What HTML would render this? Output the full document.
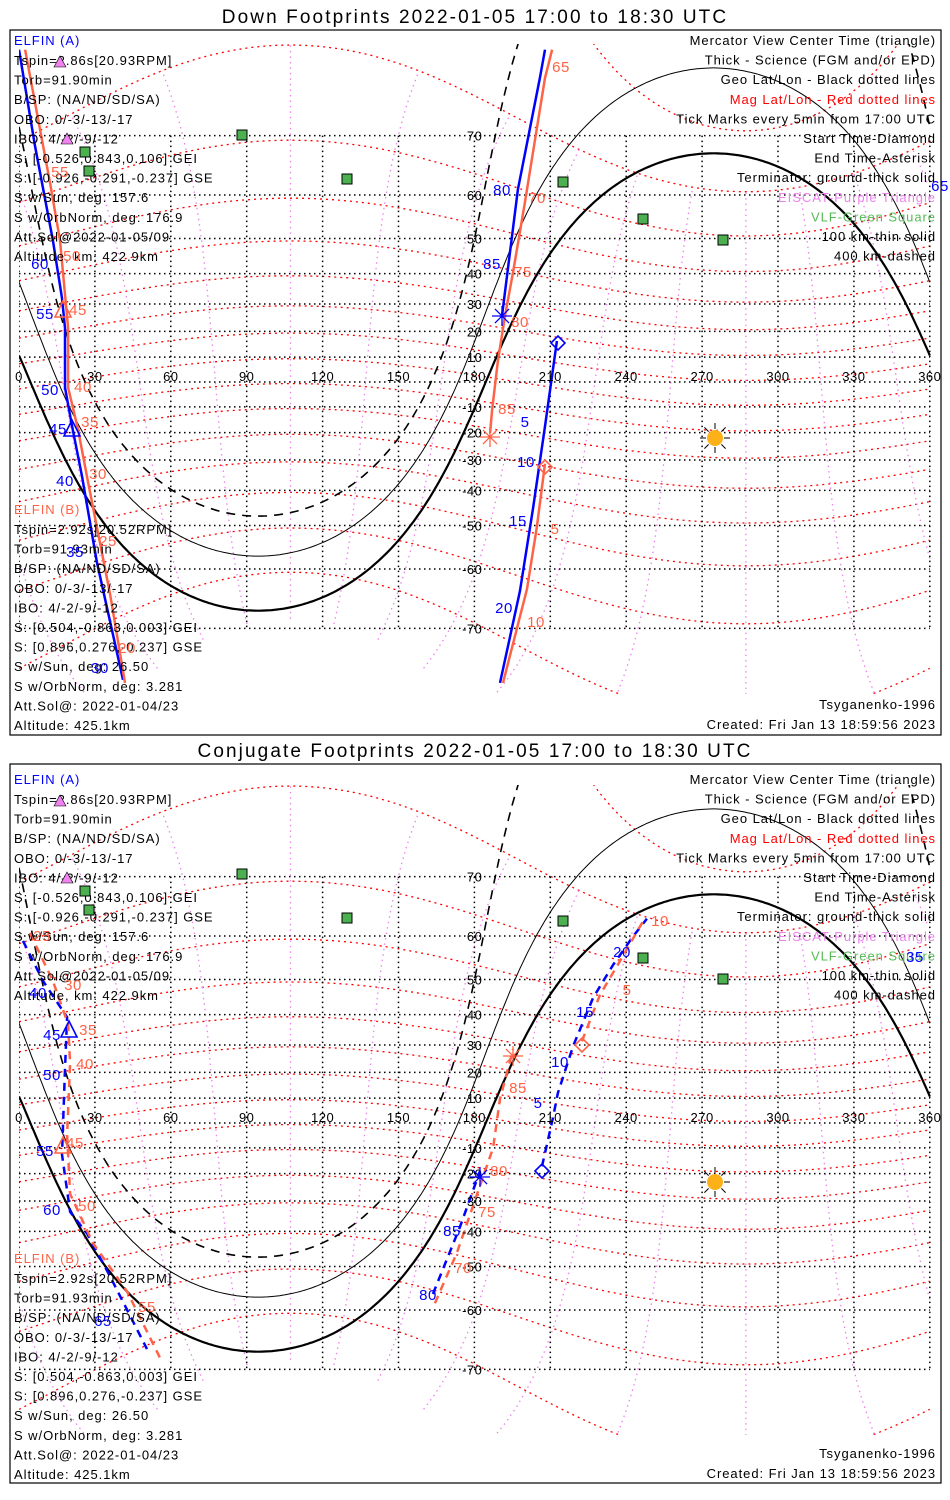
<!DOCTYPE html>
<html><head><meta charset="utf-8">
<style>
html,body{margin:0;padding:0;background:#fff;}
svg{display:block;font-family:"Liberation Sans",sans-serif;}
.tx{font-size:13px;letter-spacing:0.95px;}
.lb{font-size:15px;letter-spacing:0.5px;}
.ax{font-size:13px;fill:#000;letter-spacing:0.5px;}
.ti{font-size:19px;letter-spacing:2.1px;}
</style></head>
<body>
<svg id="chart" width="950" height="1500" viewBox="0 0 950 1500" xmlns="http://www.w3.org/2000/svg">
<defs>
<clipPath id="clipTop"><rect x="19" y="44" width="912" height="650"/></clipPath>
<clipPath id="clipBot"><rect x="19" y="785" width="912" height="650"/></clipPath>
</defs>
<text class="ti" x="475" y="23" text-anchor="middle">Down Footprints 2022-01-05 17:00 to 18:30 UTC</text>
<rect x="10" y="30" width="931" height="705" fill="none" stroke="#000" stroke-width="1.2"/>
<text class="ti" x="475" y="757" text-anchor="middle">Conjugate Footprints 2022-01-05 17:00 to 18:30 UTC</text>
<rect x="10" y="764" width="931" height="719" fill="none" stroke="#000" stroke-width="1.2"/>
<g id="topMap" clip-path="url(#clipTop)"></g>
<g id="botMap" clip-path="url(#clipBot)"></g>
<g id="overlay"></g>
</svg>
<script>
// ---------- data ----------
const lonTicks = [0,30,60,90,120,150,180,210,240,270,300,330,360];
const latTicks = [70,60,50,40,30,20,10,-10,-20,-30,-40,-50,-60,-70];
const magLats = [-70,-60,-50,-40,-30,-20,-10,0,10,20,30,40,50,60,70,80];
const magLons = [0,30,60,90,120,150,180,210,240,270,300,330];
const sunLat = -22.6, sunLon = 274.5;
const termDepression = [0, 10.1, 19.9];
// top panel (down footprints) tracks: lon / lat
const topA1Lon = [0,6.3,13.4,17,18.2,18.2,21,24.9,30.8,41.1];
const topA1Lat = [79,68.6,49.5,32,21.3,-2.2,-17.6,-35.5,-58.6,-76];
const topB1Lon = [2.4,12.3,16.2,19.4,19.4,23.3,27.3,36,41.9];
const topB1Lat = [79,62.3,49.5,21.3,-2.2,-18.6,-37.5,-64.7,-76.3];
const topA2Lon = [212.6,207.9,203.2,198,190.1];
const topA2Lat = [16.3,-17.6,-45.2,-64.2,-76.3];
const topA3Lon = [207.9,205.9,197.2,190.9];
const topA3Lat = [79,76.6,61.1,25.8];
const topB2Lon = [207.9,204.7,200.8,191.3];
const topB2Lat = [-31.3,-50.3,-63.8,-76.3];
const topB3Lon = [210.7,207.9,200,195.3,192.1,189.3,187,186.2];
const topB3Lat = [79,76.6,58.6,40.5,25.8,8.5,-11.2,-20.1];
// bottom panel (conjugate) tracks
const botA1Lon = [1.6,9.5,19,18.2,17,20.2,26.9,36,50.6];
const botA1Lat = [59,49.6,39.2,21.3,-12.6,-33.7,-40.7,-52.5,-67];
const botB1Lon = [4.3,13.4,19.4,20.2,19,20.2,29.2,42.7,55.7];
const botB1Lat = [60.6,49.6,37,23.4,-4.9,-27.5,-43.5,-56,-68.3];
const botA2Lon = [163.6,174.3,182.2];
const botA2Lat = [-56.6,-38.6,-19];
const botA3Lon = [206.7,211,213,219,226.9,234.8,242.7,248.2];
const botA3Lat = [-17.2,1.8,12,29.6,45,53.6,59.9,63.3];
const botB2Lon = [164.4,173.1,183.4,187.4,190.1,195.3];
const botB2Lat = [-58.6,-46.3,-21.3,-10,9.7,28.5];
const botB3Lon = [222.5,229.6,237.5,246.6];
const botB3Lat = [31.3,45.8,54.5,62.8];

// ---------- projection ----------
const D = Math.PI/180, K = 142, XS = 2.53, X0 = 19;
function X(lon){ return X0 + lon*XS; }
function Y(lat, y0){ const l=Math.max(-85,Math.min(85,lat))*D; return y0 - K*Math.log(Math.tan(Math.PI/4 + l/2)); }
const NS = "http://www.w3.org/2000/svg";
function mk(tag, attrs, parent){ const e=document.createElementNS(NS,tag); for(const k in attrs) e.setAttribute(k,attrs[k]); parent.appendChild(e); return e; }
function pathFromSegs(segs){ return segs.filter(s=>s.length>1).map(s=>"M"+s.map(p=>p[0].toFixed(1)+","+p[1].toFixed(1)).join("L")).join(""); }
const ov=document.getElementById("overlay");

function drawMap(g, y0){
  const plat=80.65*D, plon=287.3*D;
  magLats.forEach(ml=>{
    const pts=[];
    for(let lon=0;lon<=360;lon+=2){
      const A=Math.sin(plat), B=Math.cos(plat)*Math.cos(lon*D-plon);
      const R=Math.hypot(A,B), phi=Math.atan2(B,A);
      const s=Math.sin(ml*D)/R; if(Math.abs(s)>1) continue;
      const lat=(Math.asin(s)-phi)/D;
      pts.push([X(lon),Y(lat,y0)]);
    }
    const p=mk("path",{d:pathFromSegs([pts]),fill:"none",stroke:"#ff0000","stroke-width":1.3,"stroke-dasharray":"2,4"},g);
    
    
  });
  const zp=[Math.cos(plat)*Math.cos(plon),Math.cos(plat)*Math.sin(plon),Math.sin(plat)];
  let yp=[-zp[1],zp[0],0]; const n=Math.hypot(yp[0],yp[1]); yp=[yp[0]/n,yp[1]/n,0];
  const xp=[yp[1]*zp[2]-yp[2]*zp[1], yp[2]*zp[0]-yp[0]*zp[2], yp[0]*zp[1]-yp[1]*zp[0]];
  magLons.forEach(mlo=>{
    const segs=[]; let cur=[]; let prev=null;
    for(let ml=-78;ml<=70;ml+=2){
      const c=Math.cos(ml*D), s=Math.sin(ml*D), cm=Math.cos(mlo*D), sm=Math.sin(mlo*D);
      const v=[0,1,2].map(i=>c*cm*xp[i]+c*sm*yp[i]+s*zp[i]);
      const lat=Math.asin(v[2])/D; let lon=Math.atan2(v[1],v[0])/D; if(lon<0) lon+=360;
      if(prev!==null && Math.abs(lon-prev)>180){ segs.push(cur); cur=[]; }
      cur.push([X(lon),Y(lat,y0)]); prev=lon;
    }
    segs.push(cur);
    const p=mk("path",{d:pathFromSegs(segs),fill:"none",stroke:"#ee82ee","stroke-width":1.3,"stroke-dasharray":"1.5,4"},g);
    
    
  });
  lonTicks.forEach(lon=>{
    const l=mk("line",{x1:X(lon),x2:X(lon),y1:Y(70,y0),y2:Y(-70,y0),stroke:"#000","stroke-width":1.5,"stroke-dasharray":"1.5,3.5"},g);
    
    
  });
  latTicks.concat([0]).forEach(lat=>{
    const l=mk("line",{x1:X(0),x2:X(360),y1:Y(lat,y0),y2:Y(lat,y0),stroke:"#000","stroke-width":1.5,"stroke-dasharray":"1.5,3.5"},g);
    
    
  });
  termDepression.forEach((d,i)=>{
    const segs=[]; let cur=[];
    for(let lon=0;lon<=360;lon+=1){
      const A=Math.sin(sunLat*D), B=Math.cos(sunLat*D)*Math.cos((lon-sunLon)*D);
      const R=Math.hypot(A,B), phi=Math.atan2(B,A);
      const s=-Math.sin(d*D)/R;
      let lat=null;
      if(Math.abs(s)<=1){
        const c1=Math.asin(s)-phi, c2=Math.PI-Math.asin(s)-phi;
        const cands=[c1,c2,c1+2*Math.PI,c2-2*Math.PI,c1-2*Math.PI,c2+2*Math.PI].filter(v=>Math.abs(v)<=Math.PI/2);
        if(cands.length){ cands.sort((a,b)=>Math.abs(a)-Math.abs(b)); lat=cands[0]/D; }
      }
      if(lat===null || lat>80){ if(cur.length) segs.push(cur); cur=[]; continue; }
      cur.push([X(lon),Y(lat,y0)]);
    }
    segs.push(cur);
    const p=mk("path",{d:pathFromSegs(segs),fill:"none",stroke:"#000","stroke-width":i===0?2.2:(i===2?1.6:1),"stroke-dasharray":i===2?"9,7":"none"},g);
    
    
  });
  lonTicks.forEach(lon=>{
    const t=mk("text",{x:X(lon),y:y0-1,"text-anchor":"middle",class:"ax"},ov);
    t.textContent=lon;
    
    
  });
  latTicks.forEach(lat=>{
    const t=mk("text",{x:X(180)+8,y:Y(lat,y0)+5,"text-anchor":"end",class:"ax"},ov);
    t.textContent=lat;
    
    
  });
}
function track(g,lons,lats,y0,color,dashed,name){
  const pts=lons.map((lo,i)=>[X(lo),Y(lats[i],y0)]);
  const p=mk("path",{d:pathFromSegs([pts]),fill:"none",stroke:color,"stroke-width":2.5,"stroke-dasharray":dashed?"8,6":"none"},g);
  
  
}
const Y0T=382, Y0B=1123;
const gT=document.getElementById("topMap"), gB=document.getElementById("botMap");
drawMap(gT,Y0T); drawMap(gB,Y0B);
const BLUE="#0000ff", RED="#ff6347";
track(gT,topA1Lon,topA1Lat,Y0T,BLUE,false,'elfin-a-track');
track(gT,topB1Lon,topB1Lat,Y0T,RED,false,'elfin-b-track');
track(gT,topA2Lon,topA2Lat,Y0T,BLUE,false,'elfin-a-track');
track(gT,topA3Lon,topA3Lat,Y0T,BLUE,false,'elfin-a-track');
track(gT,topB2Lon,topB2Lat,Y0T,RED,false,'elfin-b-track');
track(gT,topB3Lon,topB3Lat,Y0T,RED,false,'elfin-b-track');
track(gB,botA1Lon,botA1Lat,Y0B,BLUE,true,'elfin-a-conjugate-track');
track(gB,botB1Lon,botB1Lat,Y0B,RED,true,'elfin-b-conjugate-track');
track(gB,botA2Lon,botA2Lat,Y0B,BLUE,true,'elfin-a-conjugate-track');
track(gB,botA3Lon,botA3Lat,Y0B,BLUE,true,'elfin-a-conjugate-track');
track(gB,botB2Lon,botB2Lat,Y0B,RED,true,'elfin-b-conjugate-track');
track(gB,botB3Lon,botB3Lat,Y0B,RED,true,'elfin-b-conjugate-track');

// ---------- overlays ----------
function txt(x,y,s,color,anchor,cls,name){
  const t=mk("text",{x:x,y:y,fill:color,"text-anchor":anchor||"start",class:cls||"tx"},ov);
  t.textContent=s;
  
  
}
function infoBlocks(dy){
  const L=["Tspin=2.86s[20.93RPM]","Torb=91.90min","B/SP: (NA/ND/SD/SA)","OBO: 0/-3/-13/-17","IBO: 4/-2/-9/-12","S: [-0.526,0.843,0.106] GEI","S: [-0.926,-0.291,-0.237] GSE","S w/Sun, deg: 157.6","S w/OrbNorm, deg: 176.9","Att.Sol@2022-01-05/09","Altitude, km: 422.9km"];
  txt(14,45+dy,"ELFIN (A)",BLUE,"start","tx",'elfin-a-title');
  L.forEach((s,i)=>txt(14,65+dy+i*19.6,s,"#000","start","tx",'elfin-a-info'));
  const Bb=["Tspin=2.92s[20.52RPM]","Torb=91.93min","B/SP: (NA/ND/SD/SA)","OBO: 0/-3/-13/-17","IBO: 4/-2/-9/-12","S: [0.504,-0.863,0.003] GEI","S: [0.896,0.276,-0.237] GSE","S w/Sun, deg: 26.50","S w/OrbNorm, deg: 3.281","Att.Sol@: 2022-01-04/23","Altitude: 425.1km"];
  const b0 = dy===0?514:1263;
  txt(14,b0,"ELFIN (B)",RED,"start","tx",'elfin-b-title');
  Bb.forEach((s,i)=>txt(14,b0+20+i*19.6,s,"#000","start","tx",'elfin-b-info'));
  const R=[["Mercator View Center Time (triangle)","#000"],["Thick - Science (FGM and/or EPD)","#000"],["Geo Lat/Lon - Black dotted lines","#000"],["Mag Lat/Lon - Red dotted lines","#ff0000"],["Tick Marks every 5min from 17:00 UTC","#000"],["Start Time-Diamond","#000"],["End Time-Asterisk","#000"],["Terminator: ground-thick solid","#000"],["EISCAT-Purple Triangle","#ee82ee"],["VLF-Green Square","#55bb55"],["100 km-thin solid","#000"],["400 km-dashed","#000"]];
  R.forEach((r,i)=>txt(936,45+dy+i*19.6,r[0],r[1],"end","tx",'legend-entry'));
  const bb = dy===0?709:1458;
  txt(936,bb,"Tsyganenko-1996","#000","end","tx",'model-label');
  txt(936,bb+20,"Created: Fri Jan 13 18:59:56 2023","#000","end","tx",'created-label');
}
infoBlocks(0); infoBlocks(739);

[[242,135],[347,179],[563,182],[643,219],[723,240],[85,152],[89,171]].forEach(p=>{
  [0,739].forEach(dy=>{
    const r=mk("rect",{x:p[0]-5,y:p[1]+dy-5,width:10,height:10,fill:"#4caf50",stroke:"#000","stroke-width":1},ov);
    
    
  });
});
[[60,62],[67,139]].forEach(p=>{[0,739].forEach(dy=>{
  const t=mk("polygon",{points:`${p[0]-6},${p[1]+dy+5} ${p[0]+6},${p[1]+dy+5} ${p[0]},${p[1]+dy-6}`,fill:"#ee82ee",stroke:"#000","stroke-width":0.6},ov);
  
  
});});
function tri(x,y,c){ const t=mk("polygon",{points:`${x-8},${y+7} ${x+8},${y+7} ${x},${y-9}`,fill:"none",stroke:c,"stroke-width":1.6},ov);
  
   }
function dia(x,y,c){ const t=mk("polygon",{points:`${x-7},${y} ${x},${y-7} ${x+7},${y} ${x},${y+7}`,fill:"none",stroke:c,"stroke-width":1.6},ov);
  
   }
function ast(x,y,c){ let d=""; for(let a=0;a<180;a+=45){const r=10,dx=r*Math.cos(a*D),dy=r*Math.sin(a*D); d+=`M${x-dx},${y-dy}L${x+dx},${y+dy}`;}
  const p=mk("path",{d:d,stroke:c,"stroke-width":1.3,fill:"none"},ov);
  
   }
function sun(x,y){ let d=""; for(let a=0;a<360;a+=45){const dx=Math.cos(a*D),dy=Math.sin(a*D); d+=`M${x+dx*9},${y+dy*9}L${x+dx*15},${y+dy*15}`;}
  const p=mk("path",{d:d,stroke:"#000","stroke-width":1},ov);
  
  
  const c=mk("circle",{cx:x,cy:y,r:8,fill:"#fbb117"},ov);
  
   }
tri(72,429,BLUE); tri(63,310,RED); tri(69,1030,BLUE); tri(63,1146,RED);
dia(558,343,BLUE); dia(545,467,RED); dia(542,1171,BLUE); dia(582,1045,RED);
ast(502,316,BLUE); ast(490,437,RED); ast(480,1177,BLUE); ast(513,1056,RED);
sun(715,438); sun(715,1182);

const blueLabels=[["80",502,190],["85",492,264],["5",525,422],["10",526,462],["15",518,521],["20",504,608],["60",40,264],["55",45,314],["50",50,390],["45",58,429],["40",65,481],["35",75,552],["30",100,668],["65",940,186],
["40",38,993],["45",52,1035],["50",52,1075],["55",45,1151],["60",52,1210],["65",103,1321],["85",452,1231],["80",428,1295],["5",538,1103],["10",560,1062],["15",585,1012],["20",622,952],["35",915,957]];
const redLabels=[["65",561,67],["70",537,198],["75",523,272],["80",520,322],["85",507,409],["5",555,529],["10",536,622],["55",60,172],["50",72,256],["45",78,310],["40",83,387],["35",90,422],["30",98,474],["25",108,541],["20",127,648],
["25",42,936],["30",73,985],["35",88,1030],["40",85,1064],["45",75,1143],["50",87,1206],["55",147,1307],["10",660,921],["5",627,990],["85",518,1088],["80",499,1171],["75",487,1212],["70",463,1268]];
blueLabels.forEach(l=>txt(l[1],l[2]+5,l[0],BLUE,"middle","lb",'elfin-a-time-label'));
redLabels.forEach(l=>txt(l[1],l[2]+5,l[0],RED,"middle","lb",'elfin-b-time-label'));
</script>
</body></html>
